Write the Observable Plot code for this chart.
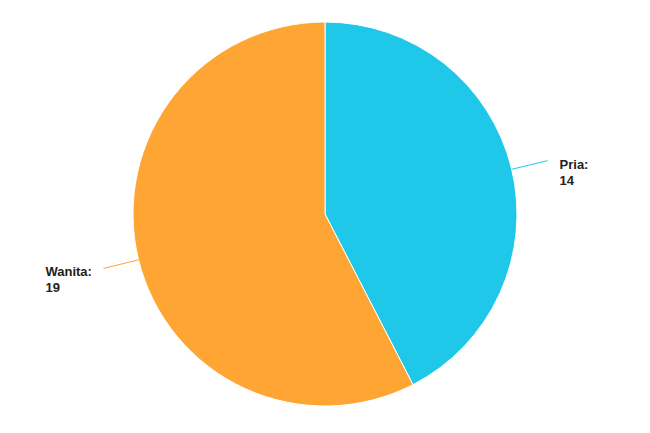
<!DOCTYPE html>
<html>
<head>
<meta charset="utf-8">
<script src="https://cdn.jsdelivr.net/npm/d3@7"></script>
<script src="https://cdn.jsdelivr.net/npm/@observablehq/plot@0.6"></script>
<style>
  html, body { margin: 0; padding: 0; background: #fff; }
  #chart { width: 650px; height: 433px; }
</style>
</head>
<body>
<div id="chart"></div>
<script>
const labels = ["Pria", "Wanita"];
const values = [14, 19];
const colors = ["#1fc8e9", "#ffa533"];

const arcs = d3.pie().sort(null)(values);
const rows = arcs.map((a, i) => {
  const mid = (a.startAngle + a.endAngle) / 2;
  return {
    label: labels[i],
    value: values[i],
    color: colors[i],
    start: a.startAngle,
    end: a.endAngle,
    mid,
    ix: Math.sin(mid), iy: Math.cos(mid),
    ox: 1.19 * Math.sin(mid), oy: 1.19 * Math.cos(mid),
    right: Math.sin(mid) >= 0
  };
});

function pieSlices(...args) {
  const scales = args.find(a => a && typeof a.x === "function" && typeof a.y === "function");
  const cx = scales.x(0), cy = scales.y(0);
  const r = scales.x(1) - scales.x(0);
  const arc = d3.arc().innerRadius(0).outerRadius(r);
  const g = d3.create("svg:g").attr("transform", `translate(${cx},${cy})`);
  g.selectAll("path").data(rows).join("path")
    .attr("d", d => arc({startAngle: d.start, endAngle: d.end}))
    .attr("fill", d => d.color)
    .attr("stroke", "#fff")
    .attr("stroke-width", 1)
    .attr("stroke-linejoin", "round");
  return g.node();
}

const textOpts = {
  fontFamily: "Liberation Sans, Arial, sans-serif",
  fontWeight: "bold",
  fontSize: 13,
  fill: "#222",
  textAnchor: "start",
  lineAnchor: "top",
  lineHeight: 1.25,
  x: d => d.ox, y: d => d.oy,
  text: d => `${d.label}:\n${d.value}`
};

const marks = [pieSlices];
rows.forEach(d => {
  marks.push(Plot.link([d], {x1: "ix", y1: "iy", x2: "ox", y2: "oy", stroke: d.color, strokeWidth: 1}));
});
marks.push(Plot.text(rows.filter(d => d.right), {...textOpts, dx: 12, dy: -3}));
marks.push(Plot.text(rows.filter(d => !d.right), {...textOpts, dx: -58, dy: -4}));

const chart = Plot.plot({
  width: 650,
  height: 433,
  margin: 0,
  x: {domain: [-1, 1], range: [133, 517], axis: null},
  y: {domain: [-1, 1], range: [406, 22], axis: null},
  marks
});
document.getElementById("chart").appendChild(chart);
</script>
</body>
</html>
